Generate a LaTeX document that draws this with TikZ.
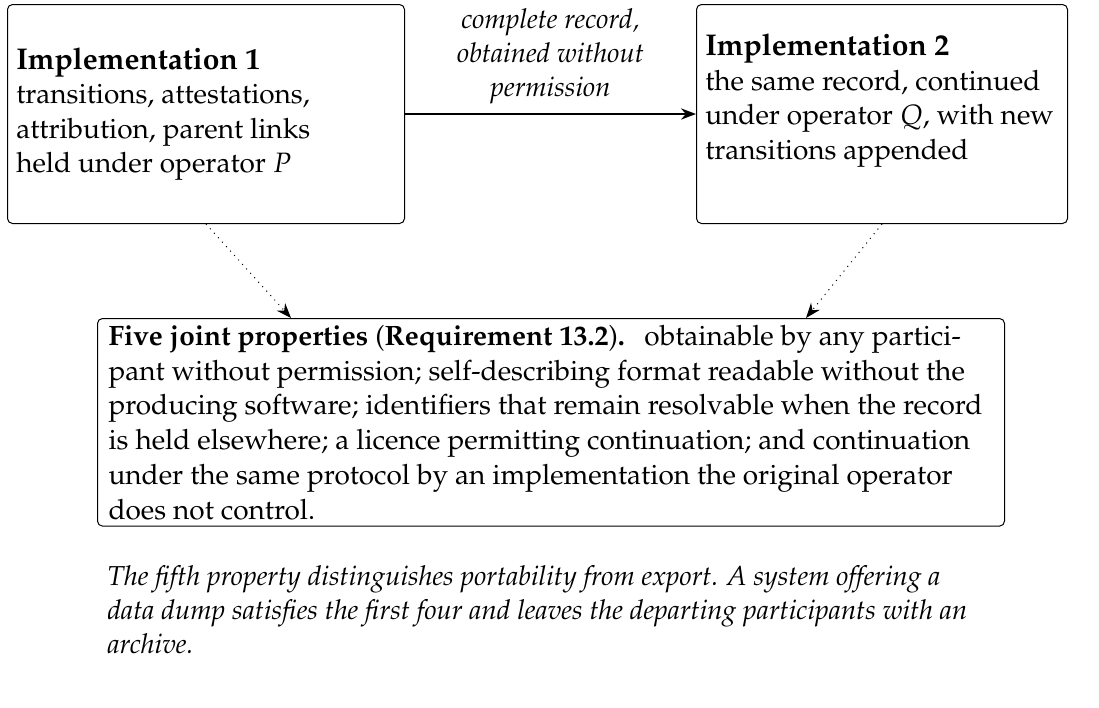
\documentclass[tikz,border=0pt,11pt]{standalone}
\usepackage[T1]{fontenc}
\usepackage{mathpazo}
\usetikzlibrary{arrows.meta}
\newcommand{\boxtitle}[1]{{\fontsize{12}{14}\selectfont\textbf{#1}}}

\begin{document}
\begin{tikzpicture}[x=0.4pt,y=-0.4pt]
                        \tikzstyle{impl}=[draw,rounded corners=2pt,minimum height=87.6pt,inner xsep=3.5pt,
                            align=flush left,anchor=north west,font=\fontsize{11.2}{13.8}\selectfont]
                        \tikzstyle{flow}=[-{Stealth[length=6pt,width=4.5pt]},thick]
                        \tikzstyle{feeds}=[-{Stealth[length=6pt,width=4.5pt]},dotted,thin]
                        \useasboundingbox (0,0) rectangle (1099,707);
                        \node[impl,text width=151.8pt] (impl1) at (7,4) {\boxtitle{Implementation 1}\\
                            transitions, attestations,\\
                            attribution, parent links\\
                            held under operator $P$};
                        \node[impl,text width=141.4pt] (impl2) at (696,4) {\boxtitle{Implementation 2}\\
                            the same record, continued\\
                            under operator $Q$, with new\\
                            transitions appended\\
                            \mbox{}};
                        \node[draw,rounded corners=2pt,anchor=north west,inner xsep=4.4pt,inner ysep=2.6pt,
                            text width=354pt,align=flush left,font=\fontsize{11.2}{13.9}\selectfont] (props) at (97,318)
                            {\textbf{Five joint properties} (\textbf{Requirement 13.2})\textbf{.}\hspace{0.7em}obtainable by any partici-\\
                            pant without permission; self-describing format readable without the\\
                            producing software; identifiers that remain resolvable when the record\\
                            is held elsewhere; a licence permitting continuation; and continuation\\
                            under the same protocol by an implementation the original operator\\
                            does not control.};
                        \node[anchor=north west,inner sep=0pt,text width=400pt,align=flush left,font=\itshape] (note) at (107,565)
                            {The fifth property distinguishes portability from export. A system offering a\\
                            data dump satisfies the first four and leaves the departing participants with an\\
                            archive.};
                        \draw[flow] (impl1) -- node[above,align=flush center,font=\itshape] {complete record,\\
                            obtained without\\permission} (impl2);
                        \draw[feeds] (impl1.south) -- ([xshift=-104pt]props.north);
                        \draw[feeds] (impl2.south) -- ([xshift=102pt]props.north);
                    \end{tikzpicture}
\end{document}
